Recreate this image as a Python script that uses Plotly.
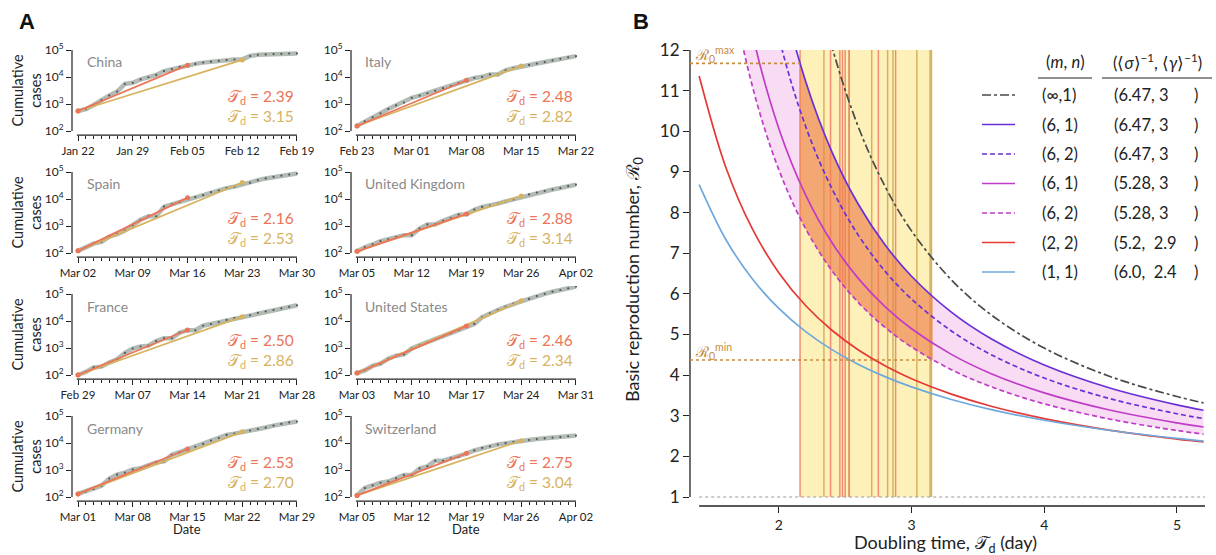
import plotly.graph_objects as go

W, H = 1216, 555

# ---------------- Panel A data ----------------
countries = ["China", "Italy", "Spain", "United Kingdom", "France", "United States", "Germany", "Switzerland"]
date_labels = [
    ["Jan 22", "Jan 29", "Feb 05", "Feb 12", "Feb 19"],
    ["Feb 23", "Mar 01", "Mar 08", "Mar 15", "Mar 22"],
    ["Mar 02", "Mar 09", "Mar 16", "Mar 23", "Mar 30"],
    ["Mar 05", "Mar 12", "Mar 19", "Mar 26", "Apr 02"],
    ["Feb 29", "Mar 07", "Mar 14", "Mar 21", "Mar 28"],
    ["Mar 03", "Mar 10", "Mar 17", "Mar 24", "Mar 31"],
    ["Mar 01", "Mar 08", "Mar 15", "Mar 22", "Mar 29"],
    ["Mar 05", "Mar 12", "Mar 19", "Mar 26", "Apr 02"],
]
days = list(range(29))
cases_china = [548, 643, 920, 1406, 2075, 2877, 5509, 6087, 8141, 9802, 11891, 16630, 19716, 23707, 27440,
               30587, 34110, 36814, 39829, 42354, 44386, 44759, 59895, 66358, 68413, 70513, 72434, 74211, 74619]
cases_italy = [155, 229, 322, 453, 655, 888, 1128, 1694, 2036, 2502, 3089, 3858, 4636, 5883, 7375,
               9172, 10149, 12462, 12462, 17660, 21157, 24747, 27980, 31506, 35713, 41035, 47021, 53578, 59138]
cases_spain = [120, 165, 222, 259, 400, 500, 673, 1073, 1695, 2277, 2277, 5232, 6391, 7798, 9942,
               11748, 13910, 17963, 20410, 25374, 28768, 35136, 39885, 49515, 57786, 65719, 73235, 80110, 87956]
cases_uk = [115, 164, 207, 274, 322, 384, 459, 459, 802, 1144, 1145, 1551, 1960, 2642, 2716,
            4014, 5067, 5745, 6726, 8164, 9640, 11812, 14745, 17312, 19780, 22453, 25481, 29865, 34173]
cases_france = [100, 130, 191, 204, 288, 380, 656, 959, 1136, 1219, 1794, 2293, 2293, 3681, 4496,
                4532, 6683, 7715, 9124, 10970, 12758, 14463, 16243, 20123, 22622, 25600, 29551, 33402, 38105]
cases_us = [118, 149, 217, 262, 402, 518, 583, 959, 1281, 1663, 2179, 2727, 3499, 4632, 6421,
            7783, 13747, 19273, 25600, 33276, 43847, 53740, 65778, 83836, 101657, 121478, 140886, 161807, 188172]
cases_germany = [130, 159, 196, 262, 482, 670, 799, 1040, 1176, 1457, 1908, 2078, 3675, 4585, 5795,
                 7272, 9257, 12327, 15320, 19848, 22213, 24873, 29056, 32986, 37323, 43938, 50871, 57695, 62095]
cases_swiss = [114, 214, 268, 337, 374, 491, 652, 652, 1139, 1359, 2200, 2200, 2700, 3028, 4075,
               5294, 6575, 7474, 8795, 9877, 10897, 11811, 12928, 14076, 14829, 15922, 16605, 17768, 18827]
all_cases = [cases_china, cases_italy, cases_spain, cases_uk, cases_france, cases_us, cases_germany, cases_swiss]

fit_start = [550, 153, 120, 115, 100, 118, 130, 114]
red_fit_days = 14
red_fit_end = [27500, 7600, 11200, 2800, 4650, 6500, 6000, 4150]
yellow_fit_days = 21
yellow_fit_end = [43000, 25700, 40900, 12900, 14400, 56000, 26000, 12200]
td_red = [2.39, 2.48, 2.16, 2.88, 2.50, 2.46, 2.53, 2.75]
td_yellow = [3.15, 2.82, 2.53, 3.14, 2.86, 2.34, 2.70, 3.04]

# ---------------- Panel B data ----------------
td_grid = [1.4, 1.6, 1.8, 2.0, 2.2, 2.4, 2.6, 2.8, 3.0, 3.3, 3.6, 4.0, 4.5, 5.0, 5.2]
r0_inf_1 = [61.18, 37.93, 26.03, 19.20, 14.94, 12.09, 10.10, 8.646, 7.549, 6.345, 5.483, 4.664, 3.961, 3.472, 3.316]
r0_6_1_a = [32.37, 22.94, 17.32, 13.71, 11.25, 9.495, 8.197, 7.207, 6.433, 5.549, 4.893, 4.248, 3.676, 3.266, 3.134]
r0_6_2_a = [28.84, 20.49, 15.52, 12.32, 10.14, 8.589, 7.438, 6.559, 5.872, 5.086, 4.502, 3.927, 3.416, 3.049, 2.930]
r0_6_1_b = [21.77, 15.97, 12.41, 10.07, 8.446, 7.263, 6.374, 5.685, 5.140, 4.510, 4.035, 3.562, 3.135, 2.825, 2.723]
r0_6_2_b = [19.39, 14.27, 11.12, 9.055, 7.616, 6.570, 5.784, 5.174, 4.692, 4.134, 3.713, 3.292, 2.913, 2.637, 2.547]
r0_2_2 = [11.36, 9.121, 7.603, 6.521, 5.718, 5.103, 4.619, 4.230, 3.912, 3.531, 3.233, 2.927, 2.640, 2.426, 2.355]
r0_1_1 = [8.689, 7.342, 6.370, 5.641, 5.076, 4.627, 4.263, 3.962, 3.710, 3.400, 3.151, 2.888, 2.636, 2.441, 2.376]

td_band = [2.16, 2.2, 2.4, 2.6, 2.8, 3.0, 3.16]
band_upper = [11.67, 11.25, 9.495, 8.197, 7.207, 6.433, 5.927]
band_lower = [7.867, 7.616, 6.570, 5.784, 5.174, 4.692, 4.374]
r0_max = 11.67
r0_min = 4.37

legend_mn = ["(∞,1)", "(6, 1)", "(6, 2)", "(6, 1)", "(6, 2)", "(2, 2)", "(1, 1)"]
legend_sg = ["(6.47, 3", "(6.47, 3", "(6.47, 3", "(5.28, 3", "(5.28, 3", "(5.2,  2.9", "(6.0,  2.4"]

# ---------------- styling ----------------
FONT = "Lato"
C_GREY = "#b2bcb5"
C_DOT = "#555555"
C_RED = "#ec7457"
C_YEL = "#d7b35f"
C_AX = "#222222"
C_R0 = "#c98a3c"

fig = go.Figure()
shapes = []
annotations = []


def px_x(p):
    return p / W


def px_y(p):
    return 1 - p / H


def note(text, x, y, size, color=C_AX, xanchor="center", yanchor="middle", **kw):
    d = dict(text=text, x=px_x(x), y=px_y(y), xref="paper", yref="paper", showarrow=False,
             xanchor=xanchor, yanchor=yanchor, font=dict(family=FONT, size=size, color=color))
    d.update(kw)
    annotations.append(d)


# panel A geometry (pixels)
col_left = [72, 351]
col_day0 = [78, 357]
px_per_day = 7.82
x_rng = [-0.77, 28.3]
row_base = [131, 253, 375, 497]
px_per_dec = 27.0
y_rng = [1.85, 5.3]

for k in range(8):
    r, c = k // 2, k % 2
    ax = "" if k == 0 else str(k + 1)
    xa, ya = "x" + ax, "y" + ax
    left = col_left[c]
    right = left + (x_rng[1] - x_rng[0]) * px_per_day
    base = row_base[r]
    top = base - (y_rng[1] - 2) * px_per_dec
    bot = base + (2 - y_rng[0]) * px_per_dec

    cases = all_cases[k]
    fig.add_trace(go.Scatter(x=days, y=cases, mode="lines", line=dict(color=C_GREY, width=4.5),
                             xaxis=xa, yaxis=ya, showlegend=False, hoverinfo="skip"))
    fig.add_trace(go.Scatter(x=days, y=cases, mode="markers", marker=dict(color=C_DOT, size=2.2),
                             xaxis=xa, yaxis=ya, showlegend=False, hoverinfo="skip"))
    fig.add_trace(go.Scatter(x=[0, yellow_fit_days], y=[fit_start[k], yellow_fit_end[k]], mode="lines+markers",
                             line=dict(color=C_YEL, width=1.8), marker=dict(color=C_YEL, size=5),
                             xaxis=xa, yaxis=ya, showlegend=False))
    fig.add_trace(go.Scatter(x=[0, red_fit_days], y=[fit_start[k], red_fit_end[k]], mode="lines+markers",
                             line=dict(color=C_RED, width=1.8), marker=dict(color=C_RED, size=5),
                             xaxis=xa, yaxis=ya, showlegend=False))

    fig.layout["xaxis" + ax] = dict(
        domain=[px_x(left), px_x(right)], range=x_rng, anchor=ya,
        tickmode="array", tickvals=[0, 7, 14, 21, 28], ticktext=date_labels[k],
        ticks="outside", ticklen=5, tickwidth=1, tickcolor=C_AX,
        minor=dict(dtick=1, tick0=0, ticks="outside", ticklen=3, tickwidth=1, tickcolor=C_AX),
        showgrid=False, zeroline=False, showline=False,
        tickfont=dict(family=FONT, size=11.5, color=C_AX))
    fig.layout["yaxis" + ax] = dict(
        domain=[px_y(bot), px_y(top)], type="log", range=y_rng, anchor=xa,
        tickmode="array", tickvals=[1e2, 1e3, 1e4, 1e5],
        ticktext=["10<sup>2</sup>", "10<sup>3</sup>", "10<sup>4</sup>", "10<sup>5</sup>"],
        ticks="outside", ticklen=5, tickwidth=1, tickcolor=C_AX,
        showgrid=False, zeroline=False, showline=False,
        tickfont=dict(family=FONT, size=12, color=C_AX))
    # spines
    span = y_rng[1] - y_rng[0]
    shapes.append(dict(type="line", xref=xa + " domain", x0=0, x1=0, yref=ya + " domain",
                       y0=(2 - y_rng[0]) / span, y1=(5 - y_rng[0]) / span, line=dict(color=C_AX, width=1.2)))
    shapes.append(dict(type="line", xref=xa, x0=-0.15, x1=28, yref=ya + " domain", y0=0, y1=0,
                       line=dict(color=C_AX, width=1.2)))
    # texts
    name_x = left + 13 if c == 0 else left + 12
    note(countries[k], name_x, base - 69, 14, color="#8a8a8a", xanchor="left")
    tx = col_day0[c] + 28 * px_per_day - 1
    note("𝒯<sub>d</sub> = %.2f" % td_red[k], tx, base - 34, 15.5, color=C_RED, xanchor="right")
    note("𝒯<sub>d</sub> = %.2f" % td_yellow[k], tx, base - 14, 15.5, color=C_YEL, xanchor="right")
    if c == 0:
        note("Cumulative<br>cases", 26, base - 40.5, 14.5, textangle=-90)
    if r == 3:
        note("Date", col_day0[c] + 14 * px_per_day, 529, 13)

annotations.append(dict(text="<b>A</b>", x=px_x(27), y=px_y(21), xref="paper", yref="paper", showarrow=False,
                        xanchor="center", yanchor="middle", font=dict(family="Liberation Sans", size=22, color="#111")))
annotations.append(dict(text="<b>B</b>", x=px_x(641), y=px_y(21), xref="paper", yref="paper", showarrow=False,
                        xanchor="center", yanchor="middle", font=dict(family="Liberation Sans", size=22, color="#111")))

# ---------------- Panel B ----------------
xb_rng = [1.331, 5.211]
yb_rng = [0.7785, 12]
fig.layout["xaxis9"] = dict(domain=[px_x(690), px_x(1205)], range=xb_rng, anchor="y9",
                            tickmode="array", tickvals=[2, 3, 4, 5], ticks="outside", ticklen=6, tickwidth=1.2,
                            tickcolor=C_AX, showgrid=False, zeroline=False, showline=False,
                            tickfont=dict(family=FONT, size=14, color=C_AX))
fig.layout["yaxis9"] = dict(domain=[px_y(506), px_y(50)], range=yb_rng, anchor="x9",
                            tickmode="array", tickvals=list(range(1, 13)), ticks="outside", ticklen=6, tickwidth=1.2,
                            tickcolor=C_AX, showgrid=False, zeroline=False, showline=False,
                            tickfont=dict(family=FONT, size=17, color=C_AX))
shapes.append(dict(type="line", xref="x9 domain", x0=0, x1=0, yref="y9", y0=1, y1=12,
                   line=dict(color=C_AX, width=1.3)))
shapes.append(dict(type="line", xref="x9", x0=td_grid[0], x1=xb_rng[1], yref="y9 domain", y0=0, y1=0,
                   line=dict(color=C_AX, width=1.3)))

all_td = td_red + td_yellow
shapes.append(dict(type="rect", xref="x9", yref="y9", x0=min(all_td), x1=max(all_td) + 0.005, y0=1, y1=12,
                   fillcolor="#fdf0b9", line=dict(width=0), layer="below"))
for t in td_yellow:
    shapes.append(dict(type="line", xref="x9", yref="y9", x0=t, x1=t, y0=1, y1=12,
                       line=dict(color="rgba(205,168,80,0.85)", width=1.5), layer="below"))
for t in td_red:
    shapes.append(dict(type="line", xref="x9", yref="y9", x0=t, x1=t, y0=1, y1=12,
                       line=dict(color="rgba(238,125,100,0.85)", width=1.5), layer="below"))

# pink band
fig.add_trace(go.Scatter(x=td_grid, y=r0_6_2_b, mode="lines", line=dict(width=0, shape="spline"),
                         xaxis="x9", yaxis="y9", showlegend=False, hoverinfo="skip"))
fig.add_trace(go.Scatter(x=td_grid, y=r0_6_1_a, mode="lines", line=dict(width=0, shape="spline"),
                         fill="tonexty", fillcolor="rgba(220,80,200,0.2)",
                         xaxis="x9", yaxis="y9", showlegend=False, hoverinfo="skip"))
# orange band
fig.add_trace(go.Scatter(x=td_band, y=band_lower, mode="lines", line=dict(width=0, shape="spline"),
                         xaxis="x9", yaxis="y9", showlegend=False, hoverinfo="skip"))
fig.add_trace(go.Scatter(x=td_band, y=band_upper, mode="lines", line=dict(width=0, shape="spline"),
                         fill="tonexty", fillcolor="rgba(240,135,55,0.55)",
                         xaxis="x9", yaxis="y9", showlegend=False, hoverinfo="skip"))

curves = [
    (r0_inf_1, "#4a4a4a", "dashdot"),
    (r0_6_1_a, "#6a30d8", "solid"),
    (r0_6_2_a, "#6a30d8", "5px,3px"),
    (r0_6_1_b, "#c03cc8", "solid"),
    (r0_6_2_b, "#c03cc8", "5px,3px"),
    (r0_2_2, "#e53935", "solid"),
    (r0_1_1, "#6fa8dc", "solid"),
]
for yv, col, dash in curves:
    fig.add_trace(go.Scatter(x=td_grid, y=yv, mode="lines", line=dict(color=col, width=1.7, dash=dash, shape="spline"),
                             xaxis="x9", yaxis="y9", showlegend=False))

# R0 min / max dotted lines
shapes.append(dict(type="line", xref="x9", yref="y9", x0=xb_rng[0], x1=min(all_td), y0=r0_max, y1=r0_max,
                   line=dict(color=C_R0, width=1.6, dash="dot")))
shapes.append(dict(type="line", xref="x9", yref="y9", x0=xb_rng[0], x1=max(all_td), y0=r0_min, y1=r0_min,
                   line=dict(color=C_R0, width=1.6, dash="dot")))
shapes.append(dict(type="line", xref="x9", yref="y9", x0=td_grid[0], x1=xb_rng[1], y0=1, y1=1,
                   line=dict(color="#9a9a9a", width=1, dash="dot")))
annotations.append(dict(text="ℛ<sub>0</sub><sup>max</sup>", x=xb_rng[0], y=r0_max, xref="x9", yref="y9",
                        xanchor="left", yanchor="bottom", xshift=3, yshift=-4, showarrow=False,
                        font=dict(family=FONT, size=15, color=C_R0)))
annotations.append(dict(text="ℛ<sub>0</sub><sup>min</sup>", x=xb_rng[0], y=r0_min, xref="x9", yref="y9",
                        xanchor="left", yanchor="bottom", xshift=3, yshift=-4, showarrow=False,
                        font=dict(family=FONT, size=15, color=C_R0)))

# axis titles B
note("Basic reproduction number, ℛ<sub>0</sub>", 633, 280, 18, textangle=-90)
note("Doubling time, 𝒯<sub>d</sub> (day)", 945, 543, 18)

# legend table
note("(<i>m</i>, <i>n</i>)", 1065, 62, 16.5)
note("(⟨<i>σ</i>⟩<sup>−1</sup>, ⟨<i>γ</i>⟩<sup>−1</sup>)", 1157, 62, 16.5)
shapes.append(dict(type="line", xref="paper", yref="paper", x0=px_x(1038), x1=px_x(1092), y0=px_y(78), y1=px_y(78),
                   line=dict(color=C_AX, width=1.2)))
shapes.append(dict(type="line", xref="paper", yref="paper", x0=px_x(1102), x1=px_x(1212), y0=px_y(78), y1=px_y(78),
                   line=dict(color=C_AX, width=1.2)))
for i, (yv, col, dash) in enumerate(curves):
    yy = 95 + 29.5 * i
    shapes.append(dict(type="line", xref="paper", yref="paper", x0=px_x(982), x1=px_x(1015), y0=px_y(yy), y1=px_y(yy),
                       line=dict(color=col, width=1.7, dash=dash)))
    note(legend_mn[i], 1040, yy, 16.5, xanchor="left")
    note(legend_sg[i].replace("  ", "&nbsp; "), 1112, yy, 16.5, xanchor="left")
    note(")", 1200, yy, 16.5, xanchor="right")

fig.update_layout(width=W, height=H, margin=dict(l=0, r=0, t=0, b=0, pad=0, autoexpand=False),
                  plot_bgcolor="white", paper_bgcolor="white", shapes=shapes, annotations=annotations,
                  showlegend=False, font=dict(family=FONT))
fig.write_html("out.html", config={"displayModeBar": False},
               post_script="document.body.style.margin='0';document.body.style.overflow='hidden';")
